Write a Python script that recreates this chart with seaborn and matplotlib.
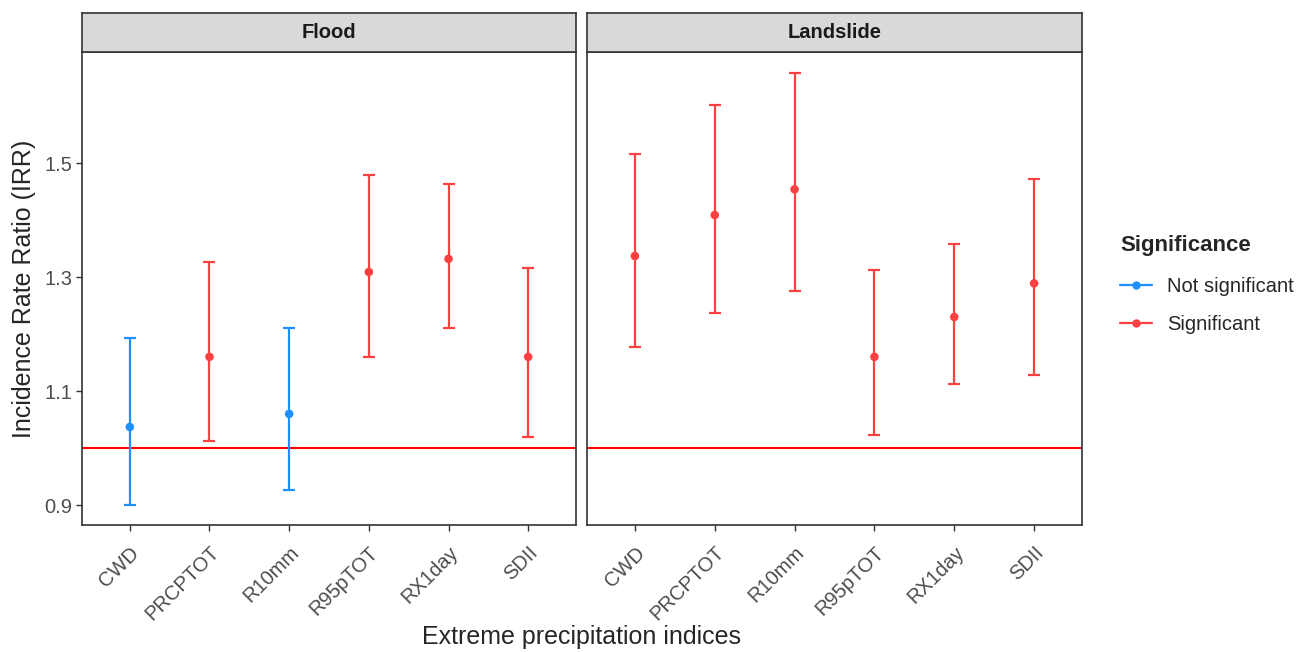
import pandas as pd
import matplotlib.pyplot as plt
import seaborn as sns
from matplotlib.lines import Line2D

# --- data ---
indices = ["CWD", "PRCPTOT", "R10mm", "R95pTOT", "RX1day", "SDII"]

flood_irr = [1.037, 1.160, 1.060, 1.309, 1.332, 1.160]
flood_low = [0.900, 1.012, 0.926, 1.160, 1.211, 1.019]
flood_high = [1.193, 1.326, 1.211, 1.479, 1.463, 1.316]
flood_sig = ["Not significant", "Significant", "Not significant",
             "Significant", "Significant", "Significant"]

landslide_irr = [1.337, 1.409, 1.454, 1.160, 1.230, 1.289]
landslide_low = [1.177, 1.237, 1.275, 1.023, 1.112, 1.128]
landslide_high = [1.516, 1.602, 1.658, 1.312, 1.358, 1.472]
landslide_sig = ["Significant"] * 6

hazards = ["Flood", "Landslide"]
palette = {"Not significant": "#1E90FF", "Significant": "#FF4040"}

df = pd.concat([
    pd.DataFrame({"hazard": "Flood", "index": indices, "irr": flood_irr,
                  "low": flood_low, "high": flood_high, "sig": flood_sig}),
    pd.DataFrame({"hazard": "Landslide", "index": indices, "irr": landslide_irr,
                  "low": landslide_low, "high": landslide_high, "sig": landslide_sig}),
], ignore_index=True)
df["pos"] = df["index"].map({k: i for i, k in enumerate(indices)})

sns.set_theme(style="white")
plt.rcParams["font.family"] = ["Liberation Sans", "DejaVu Sans"]

fig = plt.figure(figsize=(13.15, 6.52), dpi=100)
W, H = 1315, 652
panels = [(82, 576), (587, 1082)]
top, bottom, strip_top = 52, 525, 13

for (x0, x1), hz in zip(panels, hazards):
    ax = fig.add_axes([x0 / W, (H - bottom) / H, (x1 - x0) / W, (bottom - top) / H])
    sub = df[df["hazard"] == hz]
    for _, r in sub.iterrows():
        ax.errorbar(r["pos"], r["irr"], yerr=[[r["irr"] - r["low"]], [r["high"] - r["irr"]]],
                    fmt="none", ecolor=palette[r["sig"]], elinewidth=1.6,
                    capsize=4.2, capthick=1.6, zorder=2)
    sns.scatterplot(data=sub, x="pos", y="irr", hue="sig", palette=palette,
                    s=38, edgecolor="none", legend=False, ax=ax, zorder=3)
    ax.axhline(1.0, color="#FF0000", lw=1.5, zorder=1)
    ax.set_xlim(-0.6, 5.6)
    ax.set_ylim(0.865, 1.695)
    ax.set_xticks(range(len(indices)))
    ax.set_xticklabels(indices, rotation=45, ha="right", rotation_mode="anchor",
                       fontsize=14.5, color="#4D4D4D")
    ax.set_yticks([0.9, 1.1, 1.3, 1.5])
    first = x0 == panels[0][0]
    if first:
        ax.set_yticklabels(["0.9", "1.1", "1.3", "1.5"], fontsize=14.5, color="#4D4D4D")
    else:
        ax.set_yticklabels([])
    ax.tick_params(axis="x", length=4, width=1, color="#333333", direction="out",
                   bottom=True, pad=9)
    ax.tick_params(axis="y", length=4, width=1, color="#333333", direction="out",
                   left=first, pad=3)
    ax.set_xlabel("")
    ax.set_ylabel("")
    for s in ax.spines.values():
        s.set_color("#333333")
        s.set_linewidth(1.2)

    # facet strip
    sax = fig.add_axes([x0 / W, (H - top) / H, (x1 - x0) / W, (top - strip_top) / H])
    sax.set_facecolor("#D9D9D9")
    sax.set_xticks([])
    sax.set_yticks([])
    for s in sax.spines.values():
        s.set_color("#333333")
        s.set_linewidth(1.2)
    sax.text(0.5, 0.5, hz, ha="center", va="center", fontsize=14.5,
             fontweight="bold", color="#1A1A1A", transform=sax.transAxes)

fig.text((82 + 1082) / 2 / W, 0.004, "Extreme precipitation indices",
         ha="center", va="bottom", fontsize=18)
fig.text(0.009, (H - (top + bottom) / 2) / H, "Incidence Rate Ratio (IRR)",
         ha="left", va="center", rotation=90, fontsize=18)

handles = [Line2D([0], [0], color=palette[k], marker="o", markersize=5, lw=1.6,
                  label=k) for k in ["Not significant", "Significant"]]
leg = fig.legend(handles=handles, title="Significance", loc="upper left",
                 bbox_to_anchor=(1120 / W, (H - 235) / H), frameon=False,
                 borderpad=0, borderaxespad=0,
                 fontsize=14.5, title_fontsize=16, handlelength=1.6,
                 handletextpad=0.75, labelspacing=0.95, alignment="left")
leg.get_title().set_fontweight("bold")
leg._legend_box.sep = 15

fig.savefig("out.png", dpi=100)
